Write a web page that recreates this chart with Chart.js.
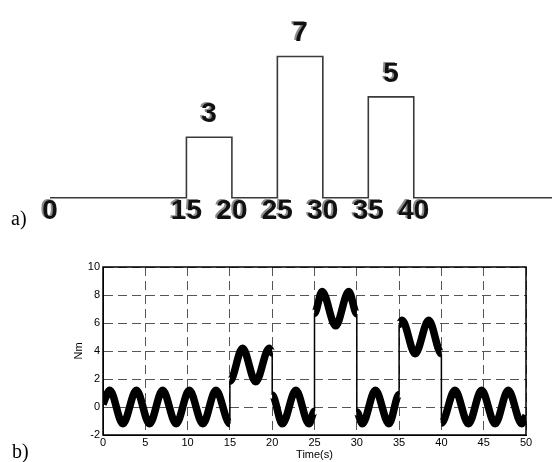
<!DOCTYPE html>
<html>
<head>
<meta charset="utf-8">
<script src="https://cdn.jsdelivr.net/npm/chart.js"></script>
<style>
  body { margin: 0; background: #fff; }
  #wrap { position: relative; width: 552px; height: 462px; overflow: hidden; }
  canvas { position: absolute; left: 0; }
  #pulses { top: 0; }
  #torque { top: 230px; }
  .tag { position: absolute; font: 20px "Liberation Serif"; line-height: 20px; color: #000; }
</style>
</head>
<body>
<div id="wrap">
  <canvas id="pulses" width="552" height="230"></canvas>
  <canvas id="torque" width="552" height="232"></canvas>
  <div class="tag" style="left:11px; top:208px">a)</div>
  <div class="tag" style="left:12px; top:441px">b)</div>
</div>
<script>
// a) load pulses
const pulseStarts = [15, 25, 35];
const pulseEnds = [20, 30, 40];
const pulseHeights = [3, 7, 5];
const pulseTicks = [0, 15, 20, 25, 30, 35, 40];
const pulseLineEnd = 56;

// b) measured torque (peaks, troughs and step edges)
const torqueTime = [
  0, 0.8, 2.35, 3.95, 5.5, 7.05, 8.65, 10.2, 11.8, 13.35, 15,
  15, 16.5, 18.05, 19.65, 20,
  20, 21.2, 22.8, 24.35, 25,
  25, 25.9, 27.5, 29.05, 30,
  30, 30.65, 32.2, 33.8, 35,
  35, 35.35, 36.9, 38.5, 40,
  40, 41.6, 43.2, 44.75, 46.35, 47.9, 49.5, 50
];
const torqueNm = [
  0.2, 1.2, -1.2, 1.2, -1.2, 1.2, -1.2, 1.2, -1.2, 1.2, -1.2,
  1.85, 4.2, 1.8, 4.2, 3.85,
  0.85, -1.2, 1.2, -1.2, -0.3,
  6.7, 8.25, 5.8, 8.25, 6.65,
  -0.35, -1.2, 1.2, -1.2, 0.9,
  5.9, 6.2, 3.8, 6.2, 3.8,
  -1.15, 1.2, -1.2, 1.2, -1.2, 1.2, -1.2, -0.6
];
const timeTicks = { min: 0, max: 50, step: 5 };
const nmTicks = { min: -2, max: 10, step: 2 };

// stepped line for the load diagram
const stepPoints = [{ x: 0, y: 0 }];
pulseStarts.forEach((s, i) => {
  stepPoints.push({ x: s, y: pulseHeights[i] });
  stepPoints.push({ x: pulseEnds[i], y: 0 });
});
stepPoints.push({ x: pulseLineEnd, y: 0 });

const pulseLabels = {
  id: 'pulseLabels',
  afterDatasetsDraw(chart) {
    const { ctx, scales: { x, y } } = chart;
    ctx.save();
    ctx.font = 'bold 28px "Liberation Sans"';
    ctx.textAlign = 'center';
    ctx.textBaseline = 'middle';
    ctx.fillStyle = '#111';
    ctx.shadowColor = 'rgba(0,0,0,0.45)';
    ctx.shadowOffsetX = -2;
    ctx.shadowOffsetY = -1;
    const base = y.getPixelForValue(0);
    pulseTicks.forEach(v => {
      ctx.fillText(String(v), x.getPixelForValue(v), base + 14);
    });
    pulseHeights.forEach((h, i) => {
      const mid = (pulseStarts[i] + pulseEnds[i]) / 2;
      ctx.fillText(String(h), x.getPixelForValue(mid), y.getPixelForValue(h) - 23);
    });
    ctx.restore();
  }
};

new Chart(document.getElementById('pulses'), {
  type: 'line',
  data: {
    datasets: [{
      data: stepPoints,
      stepped: true,
      borderColor: '#3a3a3a',
      borderWidth: 1.6,
      pointRadius: 0
    }]
  },
  options: {
    responsive: false,
    animation: false,
    layout: { padding: 0 },
    plugins: { legend: { display: false }, tooltip: { enabled: false } },
    scales: {
      x: { type: 'linear', display: false, min: -5.5, max: 55.2 },
      y: { display: false, min: -1.6, max: 9.8 }
    }
  },
  plugins: [pulseLabels]
});

// box around the plot, like the original figure
const frame = {
  id: 'frame',
  afterDraw(chart) {
    const { ctx, chartArea: a } = chart;
    ctx.save();
    ctx.strokeStyle = '#000';
    ctx.lineWidth = 1.5;
    ctx.strokeRect(a.left, a.top, a.right - a.left, a.bottom - a.top);
    ctx.restore();
  }
};

const tickFont = { family: '"Liberation Sans", Arial, sans-serif', size: 11 };

new Chart(document.getElementById('torque'), {
  type: 'line',
  data: {
    datasets: [{
      data: torqueTime.map((t, i) => ({ x: t, y: torqueNm[i] })),
      borderColor: '#000',
      borderWidth: 7.5,
      borderJoinStyle: 'round',
      pointRadius: 0,
      cubicInterpolationMode: 'monotone',
      segment: {
        // step edges are thin, the oscillation band is thick
        borderWidth: c => c.p0.parsed.x === c.p1.parsed.x ? 1.5 : 7.5
      }
    }]
  },
  options: {
    responsive: false,
    animation: false,
    layout: { padding: { left: 60, right: 26, top: 37, bottom: 0 } },
    plugins: { legend: { display: false }, tooltip: { enabled: false } },
    scales: {
      x: {
        type: 'linear',
        min: timeTicks.min,
        max: timeTicks.max,
        ticks: { stepSize: timeTicks.step, padding: 1, color: '#000', font: tickFont, maxRotation: 0 },
        grid: { color: '#555', drawTicks: false },
        border: { dash: [9, 5], color: '#000' },
        title: { display: true, text: 'Time(s)', color: '#000', font: tickFont, padding: 0 },
        afterFit: s => { s.height = 27; }
      },
      y: {
        min: nmTicks.min,
        max: nmTicks.max,
        ticks: { stepSize: nmTicks.step, padding: 3, color: '#000', font: tickFont },
        grid: { color: '#555', drawTicks: false },
        border: { dash: [9, 5], color: '#000' },
        title: { display: true, text: 'Nm', color: '#000', font: tickFont, padding: { top: 12, bottom: 0 } },
        afterFit: s => { s.width = 43; }
      }
    }
  },
  plugins: [frame]
});
</script>
</body>
</html>
